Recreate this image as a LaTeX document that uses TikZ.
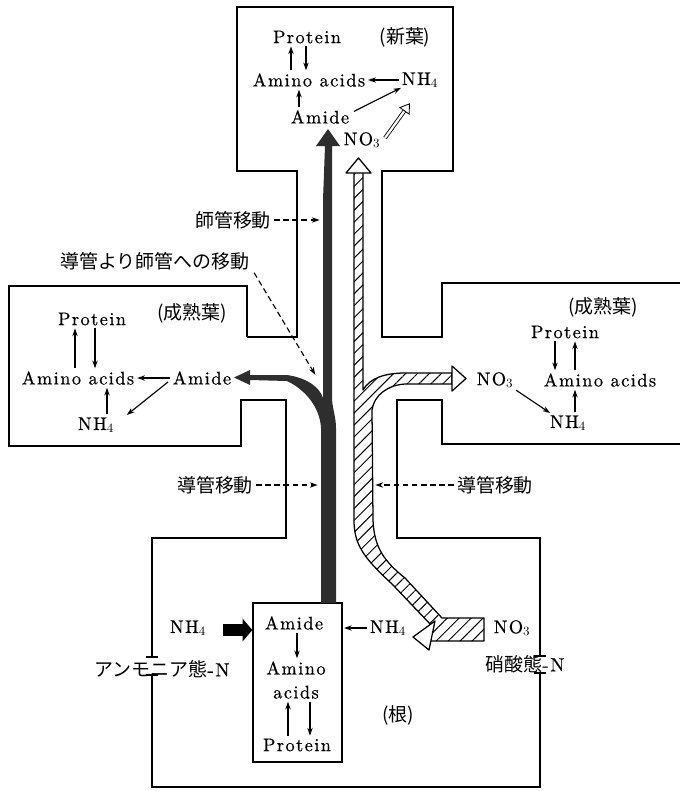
\documentclass[tikz,border=0pt]{standalone}
\usepackage{fontspec}
\setmainfont{lmroman10-regular}[Extension=.otf, LetterSpace=8, FakeBold=0.6]
\newfontfamily\jpfont{Noto Sans CJK JP}
\usetikzlibrary{arrows.meta, calc, patterns.meta}

\tikzset{
  lbl/.style={font=\fontsize{13}{17}\selectfont, inner sep=1pt},
  jlbl/.style={font=\jpfont\fontsize{13.5}{15}\selectfont, inner sep=1pt},
  sarrow/.style={line width=0.8pt, shorten >=1pt, shorten <=1pt,
    -{Stealth[length=5.5pt, width=3.8pt]}},
  darrow/.style={sarrow, dash pattern=on 4pt off 2.5pt},
  hollowline/.style={line width=0.6pt, double, double distance=1.6pt,
    -{Triangle[open, length=7pt, width=9pt]}},
  thickarr/.style={line width=8.5pt, -{Triangle[length=7pt, width=16pt]}},
  wall/.style={line width=1.2pt},
  phloem/.style={fill=black!82},
  xylem/.style={draw, line width=0.9pt, line join=round,
    pattern={Lines[angle=45, distance=6pt, line width=0.7pt]}},
  hollow/.style={draw, line width=0.9pt, line join=round, fill=white},
}

\begin{document}
\begin{tikzpicture}[x=0.25mm, y=-0.25mm]
\useasboundingbox (0,0) rectangle (680,791);

% Outline of the plant
\draw[wall] (247,337) -- (247,286) -- (9,286) -- (9,446) -- (241,446) -- (241,400)
  -- (286,400) -- (286,538) -- (152,538) -- (152,657);
\draw[wall] (146,657) -- (158,657);
\draw[wall] (146,675) -- (158,675);
\draw[wall] (152,675) -- (152,787) -- (540,787) -- (540,673);
\draw[wall] (534,673) -- (546,673);
\draw[wall] (534,656) -- (546,656);
\draw[wall] (540,656) -- (540,538) -- (397,538) -- (397,400) -- (442,400)
  -- (442,444) -- (680,444);
\draw[wall] (680,283) -- (442,283) -- (442,337) -- (382,337) -- (382,171)
  -- (453,171) -- (453,7) -- (237,7) -- (237,171) -- (297,171) -- (297,337)
  -- (247,337);

% Root cell
\node[draw, line width=0.9pt, inner sep=0pt, minimum width=22.25mm,
  minimum height=39.75mm] (rootbox) at (297.5,682.5) {};

% Phloem (black) with branch to the mature leaf
\fill[phloem] (321,603) -- (321,428)
  .. controls (320,408) and (306,390) .. (287,381)
  -- (250,380) -- (250,385) -- (234,377.5) -- (250,370) -- (250,375)
  -- (287,375) .. controls (308,378) and (320,388) .. (323,398)
  -- (323,200) -- (325,146) -- (316,146) -- (328,129) -- (340,146) -- (332,146)
  -- (332,400) .. controls (333,410) and (336,418) .. (336,428)
  -- (336,603) -- cycle;

% Xylem (hatched) from nitrate to the leaves
\path[xylem] (354,172) -- (363,172) -- (363,390)
  .. controls (370,378) and (385,373) .. (405,373) -- (452,373)
  -- (452,384) -- (405,384) .. controls (388,385) and (374,395) .. (372,410)
  -- (373,520) .. controls (374,548) and (385,562) .. (405,578)
  -- (442,618) -- (484,618) -- (484,641) -- (430,641) -- (432,626)
  -- (392,584) .. controls (364,558) and (354,545) .. (354,520) -- cycle;
\draw[hollow] (346,173) -- (358.5,158) -- (371,173) -- cycle;
\draw[hollow] (452,366) -- (466,378.5) -- (452,391) -- cycle;
\draw[hollow] (435,621) -- (413,637) -- (429,650) -- cycle;

% Young leaf
\node[lbl] (ptop) at (307,37) {Protein};
\node[jlbl] (lbnew) at (405,37) {(新葉)};
\node[lbl] (aatop) at (309,80) {Amino acids};
\node[lbl] (nhtop) at (420,80) {NH$_4$};
\node[lbl] (amtop) at (320,117) {Amide};
\node[lbl] (notop) at (362,140) {NO$_3$};
\draw[sarrow] ($(aatop.north)+(-18,0)$) -- ($(ptop.south)+(-16,0)$);
\draw[sarrow] ($(ptop.south)+(-1,0)$) -- ($(aatop.north)+(-3,0)$);
\draw[sarrow] (nhtop.west) -- (aatop.east);
\draw[sarrow] ($(amtop.north)+(-21,0)$) -- ($(aatop.south)+(-10,0)$);
\draw[sarrow] ($(amtop.east)+(2,-5)$) -- ($(nhtop.south west)+(2,-2)$);
\draw[hollowline] ($(notop.east)+(3,-2)$) -- ($(nhtop.south)+(-10,14)$);

% Mature leaf, left
\node[lbl] (plft) at (92,319) {Protein};
\node[jlbl] (lblft) at (192,313) {(成熟葉)};
\node[lbl] (aalft) at (78,378) {Amino acids};
\node[lbl] (amlft) at (202,378) {Amide};
\node[lbl] (nhlft) at (96,425) {NH$_4$};
\draw[sarrow] ($(aalft.north)+(-3,0)$) -- ($(plft.south)+(-17,0)$);
\draw[sarrow] ($(plft.south)+(3,0)$) -- ($(aalft.north)+(17,0)$);
\draw[sarrow] (amlft.west) -- (aalft.east);
\draw[sarrow] ($(amlft.west)+(-2,3)$) -- ($(nhlft.north east)+(10,0)$);
\draw[sarrow] ($(nhlft.north)+(11,0)$) -- ($(aalft.south)+(29,0)$);

% Mature leaf, right
\node[jlbl] (lbrgt) at (603,307) {(成熟葉)};
\node[lbl] (prgt) at (565,332) {Protein};
\node[lbl] (aargt) at (600,380) {Amino acids};
\node[lbl] (norgt) at (495,380) {NO$_3$};
\node[lbl] (nhrgt) at (568,423) {NH$_4$};
\draw[sarrow] ($(prgt.south)+(-10,0)$) -- ($(aargt.north)+(-45,0)$);
\draw[sarrow] ($(aargt.north)+(-25,0)$) -- ($(prgt.south)+(10,0)$);
\draw[sarrow] (norgt.south east) -- ($(nhrgt.north west)+(3,0)$);
\draw[sarrow] ($(nhrgt.north)+(7,0)$) -- ($(aargt.south)+(-25,0)$);

% Transport labels
\coordinate (stemph) at (321,220);
\coordinate (branchpt) at (316,376);
\coordinate (stemxl) at (319,485);
\coordinate (tubexr) at (374,485);
\node[jlbl] (lbph) at (233,220) {師管移動};
\node[jlbl] (lbxp) at (155,261) {導管より師管への移動};
\node[jlbl] (lbxl) at (215,485) {導管移動};
\node[jlbl] (lbxr) at (495,485) {導管移動};
\draw[darrow] (lbph.east) -- (stemph);
\draw[darrow] ($(lbxp.south east)+(2,0)$) -- (branchpt);
\draw[darrow] (lbxl.east) -- (stemxl);
\draw[darrow] (lbxr.west) -- (tubexr);

% Root
\node[lbl] (amrt) at (294,623) {Amide};
\node[lbl, align=center] (aart) at (296,680) {Amino\\acids};
\node[lbl] (prrt) at (297,745) {Protein};
\draw[sarrow] ($(amrt.south)+(3,0)$) -- ($(aart.north)+(1,0)$);
\draw[sarrow] ($(prrt.north)+(-9,0)$) -- ($(aart.south)+(-8,0)$);
\draw[sarrow] ($(aart.south)+(14,0)$) -- ($(prrt.north)+(13,0)$);
\node[lbl] (nhrl) at (188,628) {NH$_4$};
\node[lbl] (nhrr) at (388,628) {NH$_4$};
\node[lbl] (norr) at (512,628) {NO$_3$};
\node[jlbl] (lbrt) at (398,715) {(根)};
\node[jlbl] (lbam) at (162,669) {アンモニア態{\rmfamily -N}};
\node[jlbl] (lbno) at (525,664) {硝酸態{\rmfamily -N}};
\draw[sarrow] (nhrr.west) -- (nhrr.west -| rootbox.east);
\draw[thickarr] ($(nhrl.east)+(15,2)$) -- ($(nhrl.east -| rootbox.west)+(0,2)$);

\end{tikzpicture}
\end{document}
